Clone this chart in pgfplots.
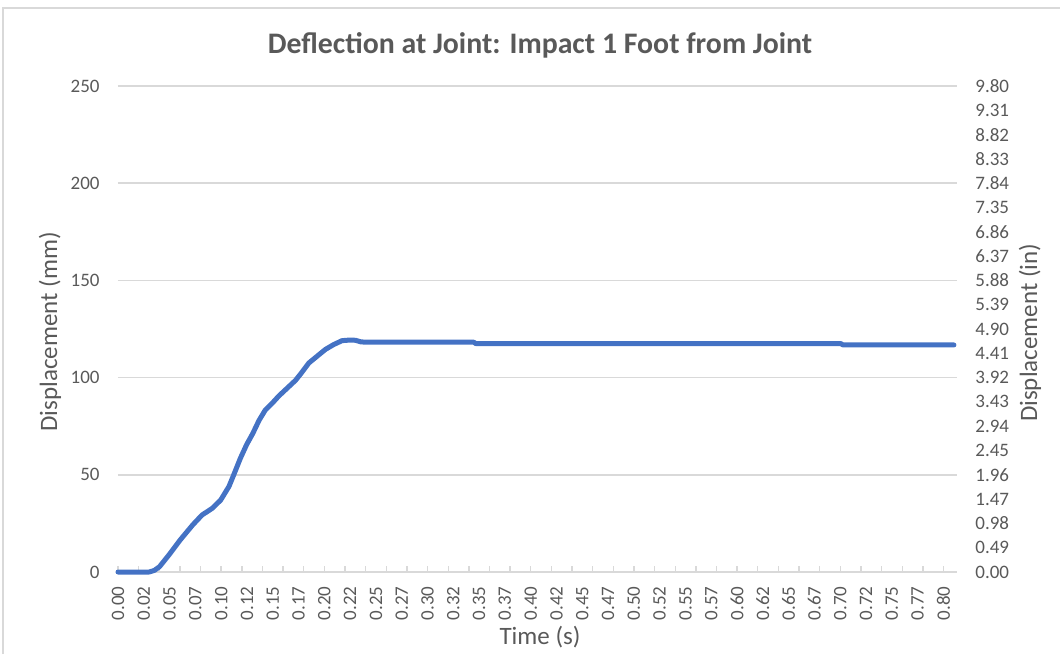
\documentclass[border=0pt]{standalone}
\usepackage{fontspec}
\setmainfont{Carlito}
\usepackage{pgfplots}
\pgfplotsset{compat=1.18}
\definecolor{txt}{HTML}{595959}
\definecolor{grd}{HTML}{D9D9D9}
\definecolor{ln}{HTML}{4472C4}
\begin{document}
\begin{tikzpicture}
\begin{axis}[name=main,
  scale only axis, width=419.5pt, height=243pt,
  xmin=0, xmax=0.809, ymin=0, ymax=250,
  clip=false,
  axis x line*=bottom, axis y line*=left,
  x axis line style={draw=grd, line width=0.7pt, -},
  y axis line style={draw=none},
  major tick length=0pt,
  ytick={0,50,...,250}, ymajorgrids,
  grid style={grd, line width=0.7pt},
  xtick={0,0.02487,...,0.797},
  xticklabels={0.00,0.02,0.05,0.07,0.10,0.12,0.15,0.17,0.20,0.22,0.25,0.27,0.30,0.32,0.35,0.37,0.40,0.42,0.45,0.47,0.50,0.52,0.55,0.57,0.60,0.62,0.65,0.67,0.70,0.72,0.75,0.77,0.80},
  extra x ticks={0,0.0199,...,0.807},
  extra x tick labels={},
  extra x tick style={major tick length=3pt, tick align=inside, tick style={grd, line width=0.7pt}},
  /pgf/number format/assume math mode=true,
  ticklabel style={font=\fontsize{9.5}{11}\selectfont, text=txt},
  xticklabel style={rotate=90, anchor=east, inner sep=0pt},
  yticklabel style={anchor=east, inner sep=0pt},
  xticklabel shift=7pt, yticklabel shift=9pt,
  title={Deflection at Joint: Impact 1 Foot from Joint},
  title style={at={(axis description cs:0.503,1.059)}, anchor=center, font=\bfseries\fontsize{14.9}{17}\selectfont, text=txt},
  xlabel={Time (s)},
  xlabel style={at={(axis description cs:0.503,-0.134)}, anchor=center, font=\fontsize{12.5}{15}\selectfont, text=txt},
  ylabel={Displacement (mm)},
  ylabel style={at={(axis description cs:-0.081,0.494)}, anchor=center, font=\fontsize{12.5}{15}\selectfont, text=txt},
]
\addplot[ln, line width=2.5pt, line join=round, line cap=round] coordinates {
  (0,0) (0.030,0) (0.035,0.8) (0.040,2.7) (0.049,8.7) (0.060,16.5)
  (0.072,24.2) (0.081,29.3) (0.091,32.8) (0.099,37.0) (0.107,44.0)
  (0.112,50.5) (0.118,58.5) (0.124,65.5) (0.130,71.3) (0.136,78.0)
  (0.142,83.3) (0.149,87.0) (0.155,90.5) (0.163,94.5) (0.171,98.5)
  (0.177,102.5) (0.184,107.5) (0.192,111.0) (0.200,114.5) (0.208,117.0)
  (0.216,119.0) (0.223,119.3) (0.229,119.2) (0.234,118.4) (0.239,118.2)
  (0.343,118.2) (0.345,117.5) (0.697,117.5) (0.699,116.8) (0.806,116.8)
};
\end{axis}
\begin{axis}[
  at={(main.south west)}, anchor=south west,
  scale only axis, width=419.5pt, height=243pt,
  xmin=0, xmax=0.809, ymin=0, ymax=9.8,
  hide x axis,
  axis y line*=right,
  y axis line style={draw=none},
  major tick length=0pt,
  ytick={0,0.49,0.98,1.47,1.96,2.45,2.94,3.43,3.92,4.41,4.90,5.39,5.88,6.37,6.86,7.35,7.84,8.33,8.82,9.31,9.80},
  /pgf/number format/.cd, fixed, fixed zerofill, precision=2, assume math mode=true,
  /pgfplots/.cd,
  yticklabel style={anchor=west, inner sep=0pt, font=\fontsize{9.5}{11}\selectfont, text=txt},
  yticklabel shift=9pt,
  ylabel={Displacement (in)},
  ylabel style={at={(axis description cs:1.087,0.492)}, anchor=center, rotate=0, font=\fontsize{12.5}{15}\selectfont, text=txt},
]
\end{axis}
\draw[grd, line width=0.7pt] ([shift={(-57.5pt,-41pt)}]main.south west) -- ([shift={(-57.5pt,39pt)}]main.north west) -- ([shift={(53pt,39pt)}]main.north east);
\pgfresetboundingbox
\path ([shift={(-59pt,-41pt)}]main.south west) rectangle ([shift={(51.5pt,43pt)}]main.north east);
\end{tikzpicture}
\end{document}
